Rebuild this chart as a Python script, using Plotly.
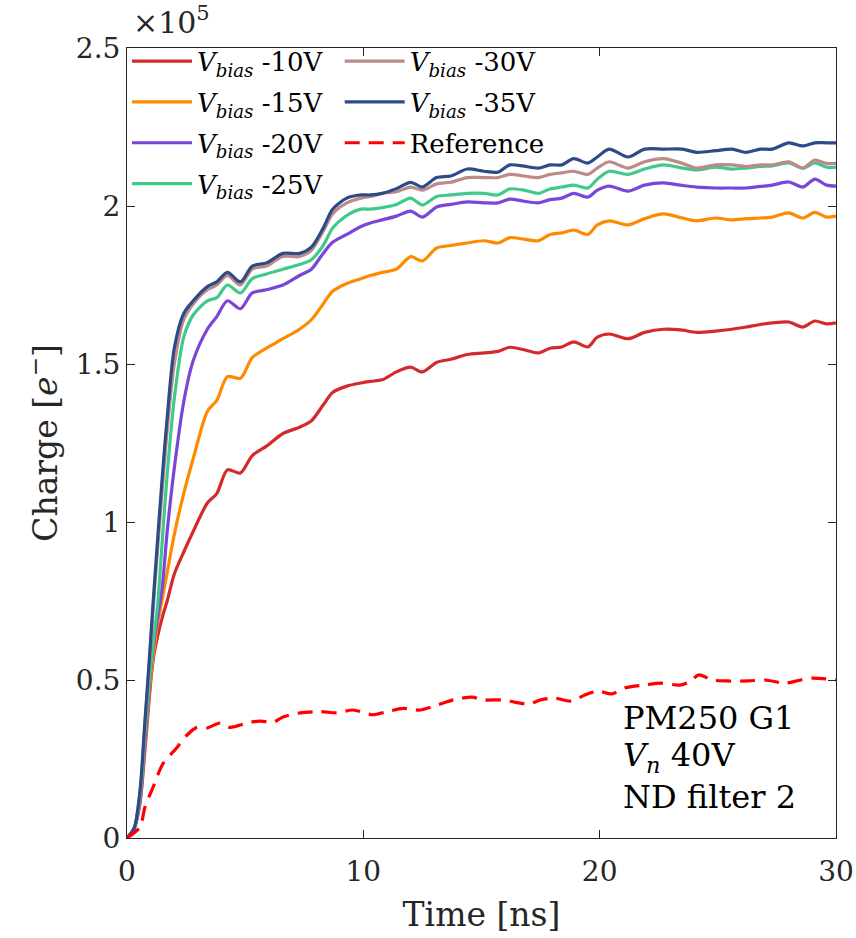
import plotly.graph_objects as go

# time grid (ns)
time_ns = [0, 0.3, 0.55, 0.75, 0.95, 1.1, 1.3, 1.5, 1.7, 2.0, 2.4, 2.8, 3.4, 3.8, 4.25, 4.8, 5.3, 5.9,
           6.6, 7.3, 7.8, 8.3, 8.7, 9.3, 9.9,
           10.3, 10.8, 11.4, 12.0, 12.5, 13.1, 13.7, 14.4, 15.1, 15.7, 16.2, 16.8, 17.4, 17.9, 18.4,
           18.9, 19.5, 19.9, 20.4, 21.2, 21.9, 22.7, 23.5, 24.1, 24.9, 25.6, 26.2, 26.8, 27.3, 28.0,
           28.6, 29.1, 29.6, 30]

# charge in units of 1e5 electrons
q_m10 = [0, 0.03, 0.11, 0.27, 0.45, 0.56, 0.64, 0.70, 0.75, 0.835, 0.905, 0.97, 1.06, 1.09, 1.165, 1.155,
         1.21, 1.24, 1.28, 1.30, 1.32, 1.37, 1.41, 1.43, 1.44,
         1.445, 1.45, 1.475, 1.49, 1.475, 1.505, 1.515, 1.53, 1.535, 1.54, 1.553, 1.545, 1.535, 1.55,
         1.554, 1.57, 1.554, 1.585, 1.595, 1.58, 1.60, 1.61, 1.607, 1.60, 1.604, 1.61, 1.617, 1.625,
         1.63, 1.633, 1.617, 1.636, 1.627, 1.63]
q_m15 = [0, 0.03, 0.12, 0.29, 0.47, 0.57, 0.68, 0.76, 0.84, 0.96, 1.09, 1.20, 1.35, 1.385, 1.46, 1.455,
         1.52, 1.55, 1.58, 1.61, 1.64, 1.69, 1.73, 1.755, 1.77,
         1.78, 1.79, 1.80, 1.84, 1.826, 1.867, 1.875, 1.883, 1.89, 1.883, 1.90, 1.895, 1.89, 1.91,
         1.915, 1.924, 1.91, 1.94, 1.953, 1.94, 1.96, 1.975, 1.962, 1.953, 1.962, 1.956, 1.96, 1.962,
         1.965, 1.978, 1.962, 1.98, 1.965, 1.968]
q_m20 = [0, 0.03, 0.12, 0.30, 0.49, 0.60, 0.70, 0.80, 0.97, 1.17, 1.38, 1.51, 1.61, 1.65, 1.70, 1.675,
         1.725, 1.735, 1.75, 1.78, 1.80, 1.85, 1.885, 1.91, 1.935,
         1.946, 1.956, 1.968, 1.984, 1.965, 1.997, 2.005, 2.013, 2.01, 2.01, 2.022, 2.015, 2.01, 2.02,
         2.025, 2.04, 2.028, 2.05, 2.063, 2.047, 2.066, 2.073, 2.065, 2.06, 2.057, 2.057, 2.057, 2.062,
         2.066, 2.076, 2.06, 2.085, 2.066, 2.063]
q_m25 = [0, 0.03, 0.13, 0.32, 0.50, 0.61, 0.74, 0.95, 1.15, 1.39, 1.585, 1.655, 1.70, 1.71, 1.75, 1.725,
         1.77, 1.785, 1.80, 1.815, 1.83, 1.875, 1.93, 1.97, 1.99,
         1.99, 1.995, 2.005, 2.025, 2.003, 2.03, 2.035, 2.04, 2.04, 2.035, 2.054, 2.05, 2.04, 2.054,
         2.06, 2.066, 2.057, 2.085, 2.11, 2.10, 2.117, 2.13, 2.12, 2.114, 2.123, 2.117, 2.12, 2.125,
         2.127, 2.136, 2.12, 2.136, 2.123, 2.123]
q_m30 = [0, 0.03, 0.14, 0.35, 0.56, 0.72, 0.92, 1.11, 1.29, 1.50, 1.64, 1.69, 1.735, 1.75, 1.78, 1.75,
         1.80, 1.81, 1.84, 1.84, 1.86, 1.92, 1.975, 2.01, 2.025,
         2.03, 2.04, 2.045, 2.06, 2.05, 2.07, 2.075, 2.09, 2.09, 2.09, 2.10, 2.095, 2.09, 2.10,
         2.105, 2.11, 2.10, 2.12, 2.14, 2.12, 2.14, 2.15, 2.135, 2.12, 2.13, 2.13, 2.125, 2.13,
         2.13, 2.14, 2.12, 2.145, 2.135, 2.135]
q_m35 = [0, 0.03, 0.15, 0.36, 0.57, 0.74, 0.95, 1.15, 1.33, 1.55, 1.66, 1.70, 1.745, 1.76, 1.79, 1.76,
         1.81, 1.82, 1.85, 1.85, 1.87, 1.93, 1.99, 2.025, 2.035,
         2.035, 2.04, 2.055, 2.075, 2.06, 2.09, 2.095, 2.117, 2.11, 2.107, 2.13, 2.126, 2.12, 2.13,
         2.13, 2.15, 2.136, 2.155, 2.18, 2.155, 2.18, 2.18, 2.18, 2.17, 2.175, 2.18, 2.17, 2.18,
         2.18, 2.20, 2.19, 2.20, 2.20, 2.20]

ref_time = [0, 0.55, 0.76, 1.1, 1.52, 2.1, 2.54, 2.96, 3.38, 3.94, 4.36, 5.08, 5.63, 6.2, 6.6, 7.32,
            8.17, 8.9, 9.56, 10.4, 11.0, 11.7, 12.4, 13.1, 13.8, 14.6, 15.07, 15.95, 16.4, 17.0,
            17.5, 18.07, 18.8, 19.35, 19.93, 20.5, 21.07, 21.9, 22.6, 23.4, 23.8, 24.2, 24.76,
            25.35, 26.3, 27.0, 27.85, 28.5, 29.0, 30]
ref_q = [0, 0.035, 0.098, 0.16, 0.235, 0.285, 0.326, 0.35, 0.348, 0.364, 0.35, 0.364, 0.37, 0.367,
         0.383, 0.396, 0.40, 0.396, 0.405, 0.39, 0.40, 0.41, 0.405, 0.42, 0.437, 0.446, 0.437,
         0.437, 0.43, 0.424, 0.437, 0.443, 0.433, 0.452, 0.465, 0.456, 0.475, 0.484, 0.49, 0.484,
         0.494, 0.516, 0.50, 0.497, 0.497, 0.50, 0.49, 0.50, 0.506, 0.50]

series = [
    ("-10V", q_m10, "#D42A2C", "legend"),
    ("-15V", q_m15, "#FF8A00", "legend"),
    ("-20V", q_m20, "#7A45D8", "legend"),
    ("-25V", q_m25, "#3FC98A", "legend"),
    ("-30V", q_m30, "#BC8A88", "legend2"),
    ("-35V", q_m35, "#2D4B87", "legend2"),
]

FONT = "DejaVu Serif"
fig = go.Figure()
for i, (lab, q, col, lg) in enumerate(series):
    fig.add_trace(go.Scatter(
        x=time_ns, y=q, mode="lines",
        name="<i>V</i><sub><i>bias</i></sub> " + lab,
        line=dict(color=col, width=3.2, shape="spline", smoothing=0.8),
        legend=lg, legendgroup="g%d" % i,
    ))
fig.add_trace(go.Scatter(
    x=ref_time, y=ref_q, mode="lines", name="Reference",
    line=dict(color="#FF0000", width=3.2, dash="15px,9px", shape="spline", smoothing=0.8),
    legend="legend2", legendgroup="gref",
))

axis_common = dict(
    showgrid=False, zeroline=False, showline=True, linecolor="#262626", linewidth=1,
    mirror="ticks", ticks="inside", ticklen=8, tickcolor="#262626", automargin=False,
    ticklabeloverflow="allow",
    tickfont=dict(family=FONT, size=28, color="#262626"),
)

fig.update_layout(
    width=856, height=938,
    margin=dict(l=127, r=20, t=48, b=100),
    paper_bgcolor="white", plot_bgcolor="white",
    font=dict(family=FONT, color="#262626"),
    xaxis=dict(range=[0, 30], tickvals=[0, 10, 20, 30], ticklabelstandoff=8,
               title=dict(text="Time [ns]", font=dict(family=FONT, size=33), standoff=16),
               **axis_common),
    yaxis=dict(range=[0, 2.5], tickvals=[0, 0.5, 1, 1.5, 2, 2.5],
               ticktext=["0", "0.5", "1", "1.5", "2", "2.5"],
               title=dict(text="Charge [<i>e</i><sup>−</sup>]", font=dict(family=FONT, size=33), standoff=8),
               **axis_common),
    legend=dict(x=0.0, y=1.013, xanchor="left", yanchor="top", bgcolor="rgba(0,0,0,0)",
                font=dict(family=FONT, size=26, color="black"), tracegroupgap=4, itemwidth=60),
    legend2=dict(x=0.30, y=1.013, xanchor="left", yanchor="top", bgcolor="rgba(0,0,0,0)",
                 font=dict(family=FONT, size=26, color="black"), tracegroupgap=4, itemwidth=60),
    showlegend=True,
)

fig.add_annotation(x=0.006, y=1.0, xref="paper", yref="paper", xanchor="left", yanchor="bottom",
                   yshift=6, text="×10<sup>5</sup>", showarrow=False,
                   font=dict(family=FONT, size=30, color="#262626"))
for txt, yv in [("PM250 G1", 0.38), ("<i>V</i><sub><i>n</i></sub> 40V", 0.255), ("ND filter 2", 0.13)]:
    fig.add_annotation(x=20.9, y=yv, xref="x", yref="y", xanchor="left", yanchor="middle",
                       text=txt, showarrow=False, font=dict(family=FONT, size=32, color="black"))

fig.write_html("out.html")
